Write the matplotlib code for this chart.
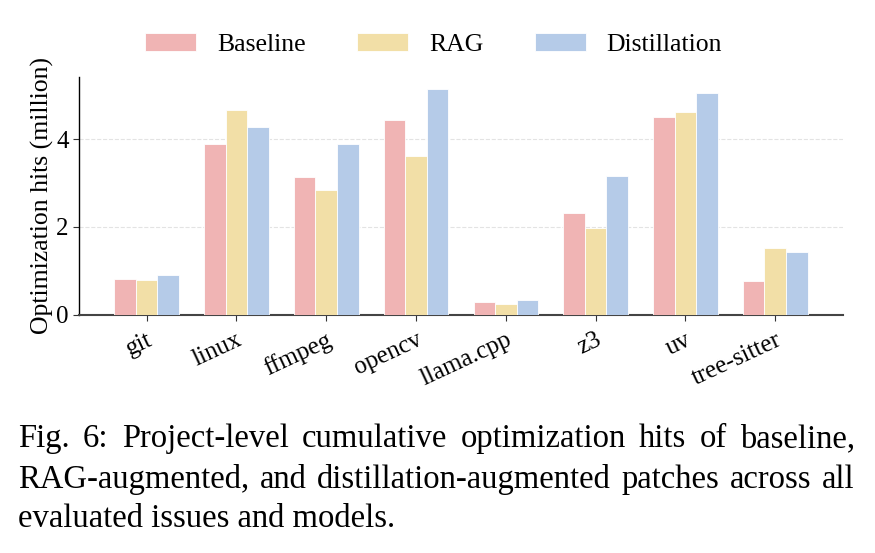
import numpy as np
import matplotlib.pyplot as plt

plt.rcParams['font.family'] = ['Liberation Serif', 'DejaVu Serif']

projects = ['git', 'linux', 'ffmpeg', 'opencv', 'llama.cpp', 'z3', 'uv', 'tree-sitter']
baseline = [0.81, 3.89, 3.13, 4.44, 0.29, 2.31, 4.51, 0.77]
rag = [0.78, 4.67, 2.84, 3.62, 0.24, 1.98, 4.62, 1.51]
distill = [0.90, 4.28, 3.88, 5.15, 0.34, 3.16, 5.06, 1.43]

series = ['Baseline', 'RAG', 'Distillation']
colors = ['#F0B4B4', '#F2DFA7', '#B5CBE8']

caption_lines = [
    'Fig. 6: Project-level cumulative optimization hits of baseline,',
    'RAG-augmented, and distillation-augmented patches across all',
    'evaluated issues and models.',
]

fig = plt.figure(figsize=(8.75, 5.53), dpi=100)
ax = fig.add_axes([0.0906, 0.431, 0.8724, 0.430])

x = np.arange(len(projects))
w = 0.24
for i, (vals, name) in enumerate(zip([baseline, rag, distill], series)):
    ax.bar(x + (i - 1) * w, vals, w, color=colors[i], label=name,
           edgecolor='white', linewidth=0.6, zorder=3)

ax.set_xlim(-0.75, len(projects) - 0.25)
ax.set_ylim(0, 5.42)
ax.set_yticks([0, 2, 4])
ax.set_xticks(x)
ax.set_xticklabels(projects, rotation=25, ha='right', rotation_mode='anchor')
ax.tick_params(axis='both', labelsize=18, length=4, color='#333333')
ax.tick_params(axis='x', pad=6)
ax.set_ylabel('Optimization hits (million)', fontsize=18.5, labelpad=2)
ax.yaxis.grid(True, linestyle='--', color='#e3e3e3', linewidth=0.8, zorder=0)
ax.set_axisbelow(True)
ax.spines['top'].set_visible(False)
ax.spines['right'].set_visible(False)
ax.spines['bottom'].set_color('#444444')
ax.spines['bottom'].set_linewidth(1.5)
ax.spines['left'].set_linewidth(1.0)

fig.legend(loc='center', bbox_to_anchor=(0.4954, 0.92), ncol=3, frameon=False,
           fontsize=18.5, handlelength=2.0, handleheight=0.7, columnspacing=2.0,
           handletextpad=0.8)

# подпись, выровненная по ширине
renderer = fig.canvas.get_renderer()
left_px, right_px = 18, 855
baselines_px = [447, 488, 527]
H = 553.0
W = 875.0
for li, line in enumerate(caption_lines):
    yb = 1 - baselines_px[li] / H
    words = line.split(' ')
    if li == len(caption_lines) - 1:
        fig.text(left_px / W, yb, line, fontsize=23.5, va='baseline', ha='left')
        continue
    txts = [fig.text(0, yb, wd, fontsize=23.5, va='baseline', ha='left') for wd in words]
    widths = [t.get_window_extent(renderer).width for t in txts]
    gap = (right_px - left_px - sum(widths)) / (len(words) - 1)
    pos = left_px
    for t, wdt in zip(txts, widths):
        t.set_x(pos / W)
        pos += wdt + gap

fig.savefig('out.png', dpi=100)
